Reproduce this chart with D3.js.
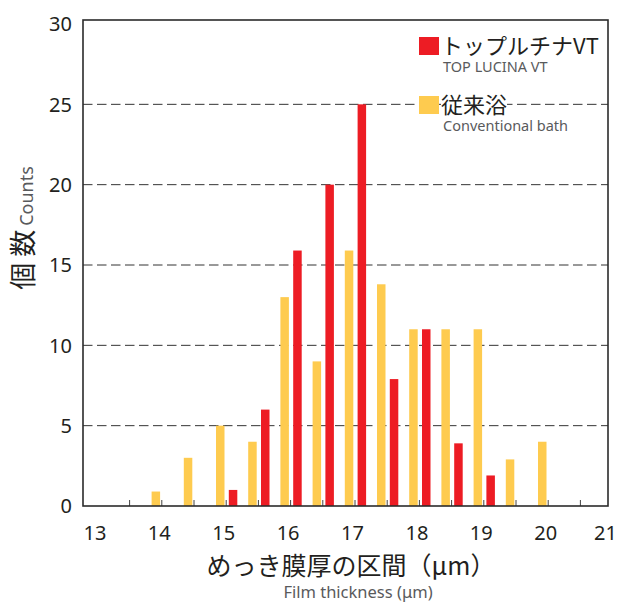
<!DOCTYPE html>
<html>
<head>
<meta charset="utf-8">
<script src="https://cdn.jsdelivr.net/npm/d3@7"></script>
<style>
  html, body { margin: 0; padding: 0; background: #fff; }
  svg { display: block; }
</style>
</head>
<body>
<div id="chart"></div>
<script>
// ---- data ----
const categories = [14, 14.5, 15, 15.5, 16, 16.5, 17, 17.5, 18, 18.5, 19, 19.5, 20];
const conventionalBath = [0.9, 3, 5, 4, 13, 9, 15.9, 13.8, 11, 11, 11, 2.9, 4];
const topLucinaVT = [0, 0, 1, 6, 15.9, 20, 25, 7.9, 11, 3.9, 1.9, 0, 0];
const yTickValues = [0, 5, 10, 15, 20, 25, 30];
const xTickLabels = [13, 14, 15, 16, 17, 18, 19, 20, 21];
const xMinorTicks = [13.5, 14, 14.5, 15, 15.5, 16, 16.5, 17, 17.5, 18, 18.5, 19, 19.5, 20, 20.5];
const seriesNames = ["トップルチナVT", "従来浴"];
const seriesSubNames = ["TOP LUCINA VT", "Conventional bath"];
const yTitle = "個 数";
const yTitleSub = "Counts";
const xTitle = "めっき膜厚の区間（μm）";
const xTitleSub = "Film thickness (μm)";

// ---- layout ----
const W = 619, H = 604;
const frame = { left: 83, top: 20, right: 608, bottom: 506 };
const RED = "#ed1c24", YELLOW = "#fecb4f", INK = "#231f20", GRAY = "#595a5c";
const NUM_FONT = "'Noto Sans', 'DejaVu Sans', sans-serif";
const JP_FONT = "'Noto Sans CJK JP', 'Noto Sans', sans-serif";

const svg = d3.select("#chart").append("svg")
  .attr("width", W).attr("height", H);

const x = d3.scaleLinear().domain([13, 21]).range([97.4, 612.6]);
const y = d3.scaleLinear().domain([0, 30]).range([506, 24]);

const barW = 8.5;

// gridlines
svg.append("g").selectAll("line")
  .data(yTickValues.filter(v => v > 0 && v < 30))
  .join("line")
  .attr("x1", frame.left).attr("x2", frame.right)
  .attr("y1", d => y(d)).attr("y2", d => y(d))
  .attr("stroke", "#333").attr("stroke-width", 1)
  .attr("stroke-dasharray", "9.5,4.5");

// bars: conventional (yellow) left of tick, TOP LUCINA (red) right of tick
const data = categories.map((c, i) => ({ c, conv: conventionalBath[i], top: topLucinaVT[i] }));

svg.append("g").selectAll("rect")
  .data(data.filter(d => d.conv > 0))
  .join("rect")
  .attr("x", d => x(d.c) - 10.2)
  .attr("width", barW)
  .attr("y", d => y(d.conv))
  .attr("height", d => y(0) - y(d.conv))
  .attr("fill", YELLOW);

svg.append("g").selectAll("rect")
  .data(data.filter(d => d.top > 0))
  .join("rect")
  .attr("x", d => x(d.c) + 2.6)
  .attr("width", barW)
  .attr("y", d => y(d.top))
  .attr("height", d => y(0) - y(d.top))
  .attr("fill", RED);

// minor ticks on bottom
svg.append("g").selectAll("line")
  .data(xMinorTicks)
  .join("line")
  .attr("x1", d => x(d)).attr("x2", d => x(d))
  .attr("y1", frame.bottom).attr("y2", frame.bottom - 6)
  .attr("stroke", "#444").attr("stroke-width", 1);

// frame
svg.append("rect")
  .attr("x", frame.left).attr("y", frame.top)
  .attr("width", frame.right - frame.left)
  .attr("height", frame.bottom - frame.top)
  .attr("fill", "none").attr("stroke", "#2b2b2b").attr("stroke-width", 1.6);

// y tick labels
svg.append("g").selectAll("text")
  .data(yTickValues)
  .join("text")
  .attr("x", 72)
  .attr("y", d => y(d))
  .attr("dy", "0.36em")
  .attr("text-anchor", "end")
  .attr("font-family", NUM_FONT).attr("font-size", 20)
  .attr("fill", INK)
  .text(d => d);

// x tick labels
svg.append("g").selectAll("text")
  .data(xTickLabels)
  .join("text")
  .attr("x", d => Math.max(91, Math.min(x(d) - 2.5, 605.5)))
  .attr("y", 540)
  .attr("text-anchor", "middle")
  .attr("font-family", NUM_FONT).attr("font-size", 20)
  .attr("fill", INK)
  .text(d => d);

// x title
svg.append("text")
  .attr("x", 351).attr("y", 575)
  .attr("text-anchor", "middle")
  .attr("font-family", JP_FONT).attr("font-size", 25)
  .attr("fill", INK)
  .text(xTitle);
svg.append("text")
  .attr("x", 358).attr("y", 598)
  .attr("text-anchor", "middle")
  .attr("font-family", NUM_FONT).attr("font-size", 16.5)
  .attr("fill", GRAY)
  .text(xTitleSub);

// y title
const yt = svg.append("text")
  .attr("transform", "translate(33,228) rotate(-90)")
  .attr("text-anchor", "middle");
yt.append("tspan")
  .attr("font-family", JP_FONT).attr("font-size", 27).attr("fill", INK)
  .text(yTitle);
yt.append("tspan")
  .attr("dx", 4)
  .attr("font-family", NUM_FONT).attr("font-size", 18).attr("fill", GRAY)
  .text(yTitleSub);

// legend
const legendColors = [RED, YELLOW];
const legendTop = [37, 96];
const lg = svg.append("g");
seriesNames.forEach((name, i) => {
  const g = lg.append("g");
  const t = g.append("text")
    .attr("x", 441).attr("y", legendTop[i] + 16.5)
    .attr("font-family", JP_FONT).attr("font-size", 22)
    .attr("fill", INK)
    .text(name);
  const bb = t.node().getBBox();
  g.insert("rect", "text")
    .attr("x", bb.x).attr("y", bb.y + 2)
    .attr("width", bb.width).attr("height", bb.height - 4)
    .attr("fill", "#fff");
  g.append("rect")
    .attr("x", 419).attr("y", legendTop[i])
    .attr("width", 20).attr("height", 18)
    .attr("fill", legendColors[i]);
  g.append("text")
    .attr("x", 443).attr("y", legendTop[i] + 34.5)
    .attr("font-family", NUM_FONT).attr("font-size", 14.5)
    .attr("fill", GRAY)
    .text(seriesSubNames[i]);
});
</script>
</body>
</html>
